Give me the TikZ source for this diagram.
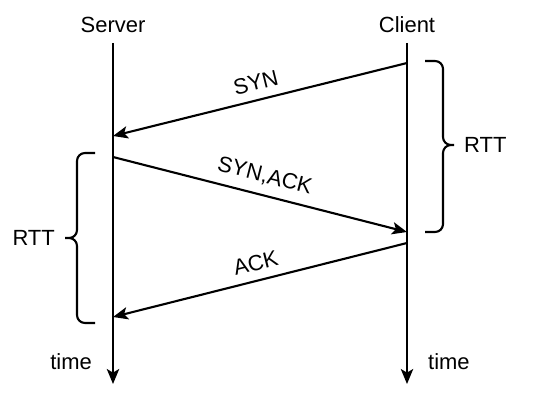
\documentclass[tikz,border=0pt]{standalone}
\usepackage{fontspec}
\setmainfont{Liberation Sans}
\usetikzlibrary{arrows.meta}

\begin{document}
\begin{tikzpicture}[
  x=0.02cm, y=-0.02cm,
  font=\fontsize{12.5}{14}\selectfont,
  >={Stealth[length=8.5pt,width=7pt,inset=2pt]},
  lifeline/.style={->, line width=1.2pt},
  msg/.style={->, line width=1.2pt},
  msglabel/.style={midway, sloped, above=4pt, inner sep=1pt},
  rttbrace/.style={line width=1.2pt, rounded corners=4.5pt}
  ]
  \useasboundingbox (0,0) rectangle (540,402);

  %% hosts and their time lines
  \node (server) at (113,25) {Server};
  \node (client) at (407,25) {Client};
  \coordinate (s top) at (113,43);  \coordinate (s end) at (113,384);
  \coordinate (c top) at (407,43);  \coordinate (c end) at (407,384);
  \draw[lifeline] (s top) -- (s end);
  \draw[lifeline] (c top) -- (c end);
  \node[anchor=east] (s time) at (98,362) {time};
  \node[anchor=west] (c time) at (422,362) {time};

  %% handshake messages
  \coordinate (c1) at (407,63);   \coordinate (s1) at (113,136);
  \coordinate (s2) at (113,157);  \coordinate (c2) at (407,232);
  \coordinate (c3) at (407,243);  \coordinate (s3) at (113,317);
  \draw[msg] (c1) -- node[msglabel] (syn) {SYN} (s1);
  \draw[msg] (s2) -- node[msglabel] (synack) {SYN,ACK} (c2);
  \draw[msg] (c3) -- node[msglabel] (ack) {ACK} (s3);

  %% round trip braces
  \draw[rttbrace] (425,61) -- (443,61) -- (443,145) -- (454,145)
                  (454,145) -- (443,145) -- (443,232) -- (425,232);
  \node[anchor=west] (rtt c) at (458,145) {RTT};
  \draw[rttbrace] (95,153) -- (77,153) -- (77,238) -- (65,238)
                  (65,238) -- (77,238) -- (77,323) -- (95,323);
  \node[anchor=east] (rtt s) at (61,238) {RTT};
\end{tikzpicture}
\end{document}
